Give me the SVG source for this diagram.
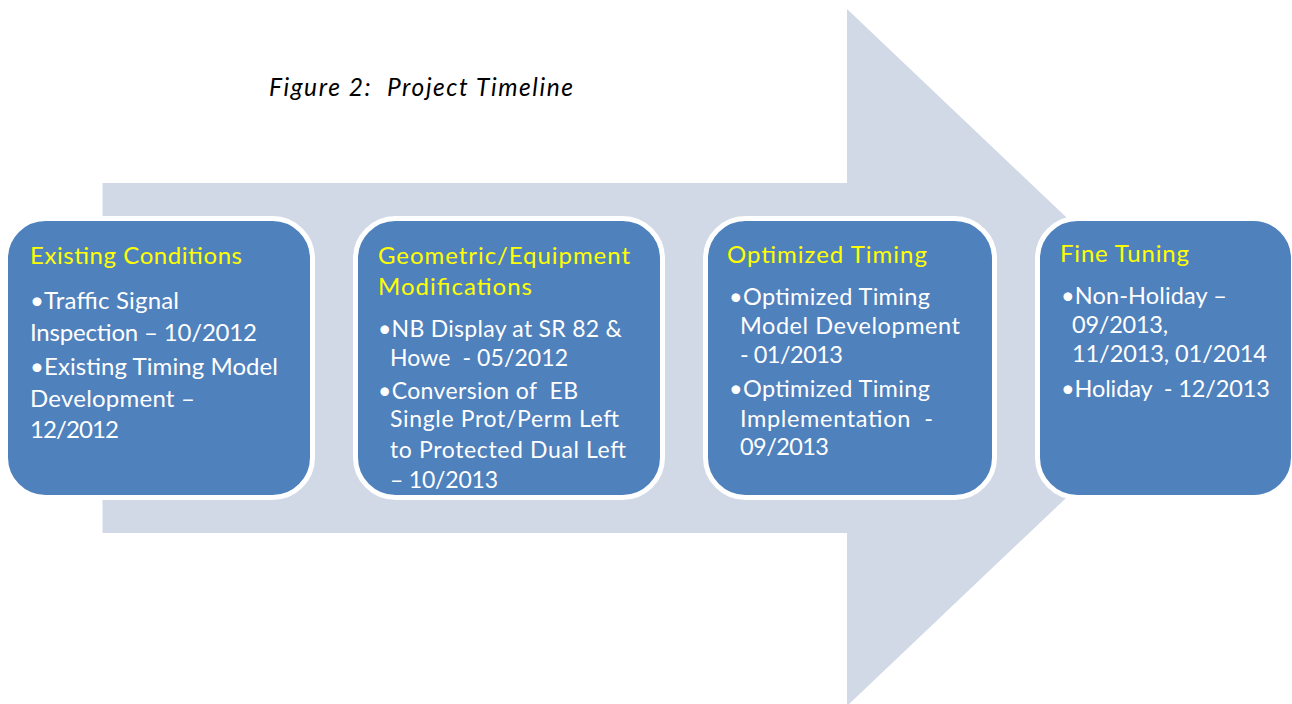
<svg xmlns="http://www.w3.org/2000/svg" width="1292" height="704" viewBox="0 0 1292 704" xml:space="preserve">
  <style>
    text { font-family: Lato, "Open Sans", "Liberation Sans", sans-serif; white-space: pre; }
    .title { font-size: 24.5px; font-style: italic; fill: #000000; }
    .box { fill: #4F81BD; stroke: #FFFFFF; stroke-width: 5; }
    .head { font-size: 24px; fill: #FFFF00; }
    .body { fill: #FFFFFF; }
    .b1 { font-size: 24px; }
    .b2 { font-size: 23px; }
    .b3 { font-size: 23.5px; }
  </style>

  <rect x="0" y="0" width="1292" height="704" fill="#FFFFFF"/>

  <!-- broad timeline arrow behind the stages -->
  <g id="connectors">
    <polygon points="102.5,183 847,183 847,9 1214,357.5 847,706 847,533 102.5,533" fill="#D1D9E7"/>
  </g>

  <g id="title">
    <text class="title" x="269" y="96" textLength="304">Figure 2:  Project Timeline</text>
  </g>

  <!-- stage 1 -->
  <g id="existing-conditions">
    <rect class="box" x="5.5" y="218.5" width="307" height="279" rx="40" ry="40"/>
    <text class="head" x="30" y="264" textLength="212">Existing Conditions</text>
    <text class="body b1" x="30" y="309" textLength="149">•Traffic Signal</text>
    <text class="body b1" x="30" y="341" textLength="227">Inspection – 10/2012</text>
    <text class="body b1" x="30" y="375" textLength="248">•Existing Timing Model</text>
    <text class="body b1" x="30" y="407" textLength="165">Development –</text>
    <text class="body b1" x="30" y="438" textLength="89">12/2012</text>
  </g>

  <!-- stage 2 -->
  <g id="geometric-equipment">
    <rect class="box" x="355.5" y="218.5" width="307" height="279" rx="40" ry="40"/>
    <text class="head" x="378" y="264" textLength="252">Geometric/Equipment</text>
    <text class="head" x="378" y="295" textLength="154">Modifications</text>
    <text class="body b2" x="378" y="337" textLength="244">•NB Display at SR 82 &amp;</text>
    <text class="body b2" x="390" y="366" textLength="178">Howe  - 05/2012</text>
    <text class="body b2" x="378" y="399" textLength="200">•Conversion of  EB</text>
    <text class="body b2" x="390" y="427" textLength="229">Single Prot/Perm Left</text>
    <text class="body b2" x="390" y="458" textLength="236">to Protected Dual Left</text>
    <text class="body b2" x="390" y="488" textLength="108">– 10/2013</text>
  </g>

  <!-- stage 3 -->
  <g id="optimized-timing">
    <rect class="box" x="705.5" y="218.5" width="289" height="279" rx="40" ry="40"/>
    <text class="head" x="727" y="263" textLength="200">Optimized Timing</text>
    <text class="body b3" x="729" y="305" textLength="201">•Optimized Timing</text>
    <text class="body b3" x="740" y="334" textLength="220">Model Development</text>
    <text class="body b3" x="740" y="363" textLength="103">- 01/2013</text>
    <text class="body b3" x="729" y="397" textLength="201">•Optimized Timing</text>
    <text class="body b3" x="740" y="427" textLength="193">Implementation  -</text>
    <text class="body b3" x="740" y="455" textLength="89">09/2013</text>
  </g>

  <!-- stage 4 -->
  <g id="fine-tuning">
    <rect class="box" x="1037.5" y="218.5" width="256" height="279" rx="40" ry="40"/>
    <text class="head" x="1060" y="262" textLength="129">Fine Tuning</text>
    <text class="body b3" x="1061" y="304" textLength="166">•Non-Holiday –</text>
    <text class="body b3" x="1072" y="333" textLength="96">09/2013,</text>
    <text class="body b3" x="1072" y="362" textLength="195">11/2013, 01/2014</text>
    <text class="body b3" x="1061" y="397" textLength="209">•Holiday  - 12/2013</text>
  </g>
</svg>
